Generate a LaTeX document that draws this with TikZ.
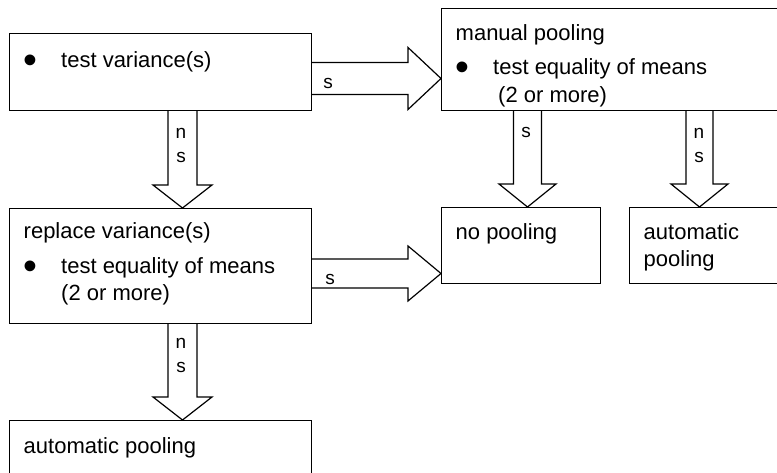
\documentclass[tikz,border=0pt]{standalone}
\usepackage{fontspec}
\setmainfont{Liberation Sans}
\usepackage{graphicx}
\usetikzlibrary{calc}

% bullet as in the word-processor list
\newcommand{\bul}{\makebox[37.5pt][l]{\raisebox{-6.3pt}{\scalebox{1.8}{\textbullet}}}}
% fat block arrows: #1 start node side, #2 tip, #3 shaft half, #4 head half, #5 head length
\newcommand{\fatright}[5]{%
  \draw [fat] ($(#1 |- #2)+(0,-#3)$) -- ($(#2)+(-#5,-#3)$) -- ($(#2)+(-#5,-#4)$) -- (#2)
    -- ($(#2)+(-#5,#4)$) -- ($(#2)+(-#5,#3)$) -- ($(#1 |- #2)+(0,#3)$);}
\newcommand{\fatdown}[5]{%
  \draw [fat] ($(#2 |- #1)+(-#3,0)$) -- ($(#2)+(-#3,-#5)$) -- ($(#2)+(-#4,-#5)$) -- (#2)
    -- ($(#2)+(#4,-#5)$) -- ($(#2)+(#3,-#5)$) -- ($(#2 |- #1)+(#3,0)$);}

\tikzset{
  box/.style={draw, rectangle, line width=1.2pt, inner sep=0pt, anchor=north west},
  txt/.style={anchor=north west, inner sep=0pt, align=left, font=\fontsize{22}{27.5}\selectfont},
  lbl/.style={inner sep=0pt, align=center, font=\fontsize{19}{24}\selectfont},
  fat/.style={draw, line width=1.2pt}
}

\begin{document}
\begin{tikzpicture}[x=1pt, y=-1pt]
    \useasboundingbox (0,0) rectangle (777,473);
    \clip (0,0) rectangle (777,473);

    % boxes
    \node (vartest) [box, minimum width=302pt, minimum height=77pt] at (9,33) {};
    \node (manual) [box, minimum width=360pt, minimum height=102pt] at (441,8) {};
    \node (replace) [box, minimum width=302pt, minimum height=115pt] at (9,208) {};
    \node (nopool) [box, minimum width=159pt, minimum height=76pt] at (441,207) {};
    \node (autoright) [box, minimum width=200pt, minimum height=76pt] at (629,207) {};
    \node (autobottom) [box, minimum width=302pt, minimum height=80pt] at (9,420) {};

    % texts
    \node (vartestText) [txt] at ($(vartest.north west)+(14.5,14.75)$) {\strut\bul test variance(s)};
    \node (manualText) [txt] at ($(manual.north west)+(14.5,12.75)$) {\strut manual pooling\\[7pt]\bul test equality of means\\\hspace*{42.5pt}(2 or more)};
    \node (replaceText) [txt] at ($(replace.north west)+(14.5,11.25)$) {\strut replace variance(s)\\[7pt]\bul test equality of means\\\hspace*{37.5pt}(2 or more)};
    \node (nopoolText) [txt] at ($(nopool.north west)+(14.5,12.75)$) {\strut no pooling};
    \node (autorightText) [txt] at ($(autoright.north west)+(14.5,12.75)$) {\strut automatic\\pooling};
    \node (autobottomText) [txt] at ($(autobottom.north west)+(14.5,13.75)$) {\strut automatic pooling};

    % arrow tips
    \coordinate (tipVM) at ($(manual.north west)+(0,70.5)$);
    \coordinate (tipVR) at ($(replace.north west)+(173.5,0)$);
    \coordinate (tipMN) at ($(nopool.north west)+(86.5,0)$);
    \coordinate (tipMA) at ($(autoright.north west)+(70.5,0)$);
    \coordinate (tipRN) at ($(nopool.north west)+(0,66.5)$);
    \coordinate (tipRA) at ($(autobottom.north west)+(173.5,0)$);

    \fatright{vartest.east}{tipVM}{16}{31}{33}
    \fatdown{vartest.south}{tipVR}{14.5}{29.5}{23}
    \fatdown{manual.south}{tipMN}{14}{28.5}{23}
    \fatdown{manual.south}{tipMA}{13.5}{28.5}{23}
    \fatright{replace.east}{tipRN}{14.5}{27.5}{33}
    \fatdown{replace.south}{tipRA}{14.5}{29.5}{23}

    % arrow labels
    \node (lblVM) [lbl] at (328,83) {s};
    \node (lblVR) [lbl] at (181,145) {n\\s};
    \node (lblMN) [lbl] at (526,132) {s};
    \node (lblMA) [lbl] at (699,145) {n\\s};
    \node (lblRN) [lbl] at (330,279) {s};
    \node (lblRA) [lbl] at (181,355) {n\\s};
\end{tikzpicture}
\end{document}
